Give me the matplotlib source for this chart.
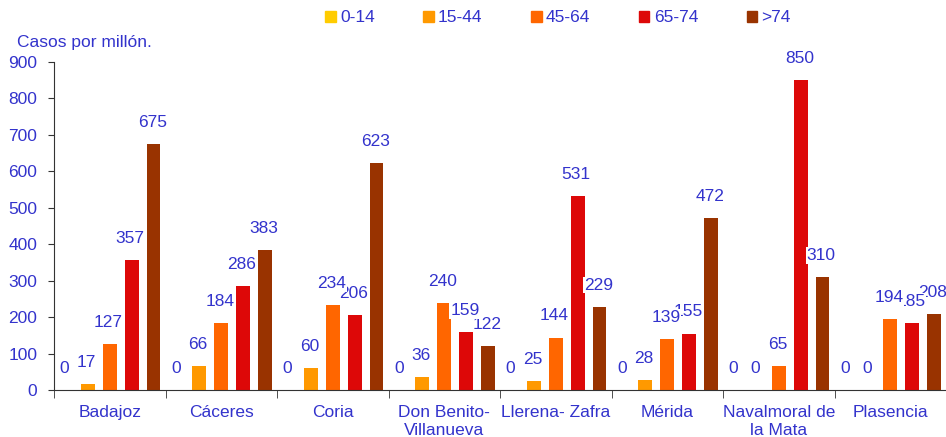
import numpy as np
import matplotlib
matplotlib.use('Agg')
import matplotlib.pyplot as plt
from matplotlib.patches import Patch

plt.rcParams['font.family'] = ['Liberation Sans', 'DejaVu Sans']

# data
CATEGORIES = ['Badajoz', 'Cáceres', 'Coria', 'Don Benito-\nVillanueva', 'Llerena- Zafra',
              'Mérida', 'Navalmoral de\nla Mata', 'Plasencia']
SERIES = ['0-14', '15-44', '45-64', '65-74', '>74']
AGE_0_14 = [0, 0, 0, 0, 0, 0, 0, 0]
AGE_15_44 = [17, 66, 60, 36, 25, 28, 0, 0]
AGE_45_64 = [127, 184, 234, 240, 144, 139, 65, 194]
AGE_65_74 = [357, 286, 206, 159, 531, 155, 850, 185]
AGE_75_UP = [675, 383, 623, 122, 229, 472, 310, 208]
COLORS = ['#FFCC00', '#FF9900', '#FF6600', '#DD0808', '#993300']

TEXT_BLUE = '#3333CC'

values = [AGE_0_14, AGE_15_44, AGE_45_64, AGE_65_74, AGE_75_UP]

fig = plt.figure(figsize=(9.46, 4.37), dpi=100)
ax = fig.add_axes([54 / 946, 47 / 437, 1 - 54 / 946, (390 - 62) / 437])

x = np.arange(len(CATEGORIES))
step = 0.197
width = 0.122
for i, (name, vals, col) in enumerate(zip(SERIES, values, COLORS)):
    pos = x + (i - 2) * step
    ax.bar(pos, vals, width, color=col, label=name, zorder=2)
    for px, v in zip(pos, vals):
        # white label boxes like the Excel original; earlier series drawn on top
        ax.annotate(str(v), (px, v), xytext=(-1, 15.5), textcoords='offset points',
                    ha='center', va='center', fontsize=12.5, color=TEXT_BLUE, zorder=10 - i,
                    bbox=dict(boxstyle='square,pad=0.05', fc='white', ec='none'))

ax.set_xlim(-0.5, len(CATEGORIES) - 0.5)
ax.set_ylim(0, 900)
ax.set_yticks(range(0, 901, 100))
ax.set_xticks(x)
ax.set_xticklabels(CATEGORIES, linespacing=1.25)
ax.set_xticks(np.arange(-0.5, len(CATEGORIES), 1), minor=True)
ax.tick_params(axis='x', which='major', length=0, pad=11, labelsize=12.5, labelcolor=TEXT_BLUE)
ax.tick_params(axis='x', which='minor', length=6, color='#333333', direction='out')
ax.tick_params(axis='y', length=4, pad=8, labelsize=12.5, labelcolor=TEXT_BLUE, color='#333333')

for side in ['top', 'right']:
    ax.spines[side].set_visible(False)
for side in ['left', 'bottom']:
    ax.spines[side].set_color('#333333')

fig.text(17 / 946, 1 - 42 / 437, 'Casos por millón.', fontsize=12.5, color=TEXT_BLUE, va='center')

handles = [Patch(color=c, label=s) for s, c in zip(SERIES, COLORS)]
leg = fig.legend(handles=handles, loc='center', bbox_to_anchor=(558 / 946, 1 - 18 / 437),
                 ncol=5, frameon=False, fontsize=12.5, handlelength=0.6, handleheight=0.6,
                 handletextpad=0.25, columnspacing=2.8, labelcolor=TEXT_BLUE)

fig.savefig('out.png', dpi=100)
